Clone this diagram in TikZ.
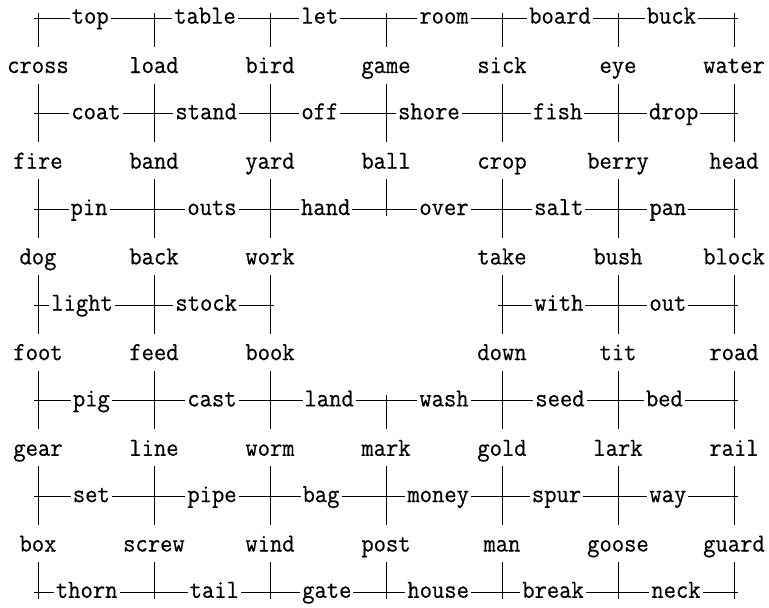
\documentclass[tikz,border=0pt]{standalone}
\usepackage{fontspec}
\newfontfamily\wordfont{Latin Modern Mono}[FakeBold=0.4, FakeStretch=0.92]

\begin{document}
\begin{tikzpicture}[x=0.5pt, y=-0.5pt, line width=0.5pt]
   \tikzstyle{every node}=[font=\wordfont\fontsize{13}{15}\selectfont]
   \tikzstyle{word}=[anchor=base, inner sep=0pt, text height=13pt, text depth=5pt]
   \tikzstyle{link}=[fill=white, anchor=base, yshift=-2.8pt, inner xsep=1pt, inner ysep=0.5pt]

\useasboundingbox (0,0) rectangle (769,607);

% junctions on the seven ruled rows
\foreach \r in {1,...,7}
    \foreach \c in {1,...,7}
        \coordinate (j\r\c) at ({38+116*(\c-1)}, {18+95.7*(\r-1)});

% words
\foreach \w [count=\c] in {cross,load,bird,game,sick,eye,water}
    \node[word] (w1\c) at ({38+116*(\c-1)}, 73) {\w};
\foreach \w [count=\c] in {fire,band,yard,ball,crop,berry,head}
    \node[word] (w2\c) at ({38+116*(\c-1)}, 168.7) {\w};
\foreach \c/\w in {1/dog,2/back,3/work,5/take,6/bush,7/block}
    \node[word] (w3\c) at ({38+116*(\c-1)}, 264.4) {\w};
\foreach \c/\w in {1/foot,2/feed,3/book,5/down,6/tit,7/road}
    \node[word] (w4\c) at ({38+116*(\c-1)}, 360.1) {\w};
\foreach \w [count=\c] in {gear,line,worm,mark,gold,lark,rail}
    \node[word] (w5\c) at ({38+116*(\c-1)}, 455.8) {\w};
\foreach \w [count=\c] in {box,screw,wind,post,man,goose,guard}
    \node[word] (w6\c) at ({38+116*(\c-1)}, 551.5) {\w};

% horizontal links
\foreach \r/\c/\t/\p in {1/1/top/.45, 1/2/table/.44, 1/3/let/.43, 1/4/room/.5, 1/5/board/.5, 1/6/buck/.46,
        2/1/coat/.5, 2/2/stand/.45, 2/3/off/.43, 2/4/shore/.37, 2/5/fish/.48, 2/6/drop/.48,
        3/1/pin/.44, 3/2/outs/.5, 3/3/hand/.48, 3/4/over/.5, 3/5/salt/.49, 3/6/pan/.43,
        4/1/light/.38, 4/2/stock/.45, 4/5/with/.49, 4/6/out/.43,
        5/1/pig/.46, 5/2/cast/.5, 5/3/land/.51, 5/4/wash/.5, 5/5/seed/.5, 5/6/bed/.4,
        6/1/set/.46, 6/2/pipe/.5, 6/3/bag/.44, 6/4/money/.45, 6/5/spur/.47, 6/6/way/.43,
        7/1/thorn/.42, 7/2/tail/.52, 7/3/gate/.49, 7/4/house/.45, 7/5/break/.44, 7/6/neck/.5}
{
    \pgfmathtruncatemacro\d{\c+1}
    \draw[shorten <=-2pt, shorten >=-2pt] (j\r\c) -- node[link, pos=\p] {\t} (j\r\d);
}

% vertical links
\foreach \c in {1,...,7}
    \draw ([yshift=2.5pt]j1\c) -- (w1\c.north);
\foreach \r/\s in {1/2,2/3,3/4,4/5,5/6}
    \foreach \c in {1,2,3,5,6,7}
        \draw (w\r\c.south) -- (w\s\c.north);
\draw (w14.south) -- (w24.north);
\draw (w24.south) -- ([yshift=-3.5pt]j34);
\draw ([yshift=3pt]j54) -- (w54.north);
\draw (w54.south) -- (w64.north);
\foreach \c in {1,...,7}
    \draw (w6\c.south) -- ([yshift=-3.5pt]j7\c);

\end{tikzpicture}
\end{document}
